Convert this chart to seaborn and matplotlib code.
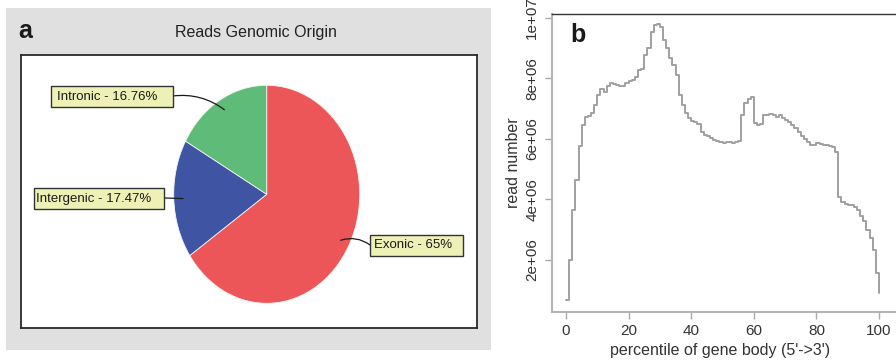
import matplotlib
matplotlib.use("Agg")
import matplotlib.pyplot as plt
from matplotlib.patches import Rectangle
import numpy as np
import pandas as pd
import seaborn as sns

# ---------------- data ----------------
categories = ["Exonic", "Intergenic", "Intronic"]
shares = [65.0, 17.47, 16.76]
share_labels = ["Exonic - 65%", "Intergenic - 17.47%", "Intronic - 16.76%"]
pie_colors = ["#EC5658", "#3F55A4", "#5FBB78"]

percentile = list(range(101))
reads_millions = [
    0.68, 2.00, 3.65, 4.64, 5.76, 6.46, 6.73, 6.75, 6.85, 7.11,
    7.44, 7.64, 7.53, 7.75, 7.83, 7.80, 7.78, 7.75, 7.75, 7.83,
    7.90, 7.95, 8.05, 8.27, 8.30, 8.77, 8.99, 9.53, 9.76, 9.78,
    9.70, 9.26, 8.99, 8.66, 8.44, 8.10, 7.45, 7.11, 6.84, 6.68,
    6.59, 6.54, 6.50, 6.23, 6.13, 6.08, 6.04, 5.96, 5.92, 5.88,
    5.86, 5.88, 5.90, 5.87, 5.88, 5.92, 6.79, 7.17, 7.30, 7.37,
    6.53, 6.46, 6.50, 6.79, 6.80, 6.82, 6.80, 6.73, 6.79, 6.70,
    6.62, 6.55, 6.45, 6.35, 6.22, 6.10, 5.98, 5.88, 5.80, 5.80,
    5.85, 5.84, 5.80, 5.78, 5.76, 5.72, 5.57, 4.09, 3.92, 3.85,
    3.82, 3.80, 3.75, 3.65, 3.45, 3.30, 2.99, 2.72, 2.33, 1.57,
    0.91,
]
x_ticks = [0, 20, 40, 60, 80, 100]
y_ticks = [2e6, 4e6, 6e6, 8e6, 1e7]
y_tick_labels = ["2e+06", "4e+06", "6e+06", "8e+06", "1e+07"]

# ---------------- style ----------------
sns.set_theme(style="white")
plt.rcParams["font.family"] = ["Liberation Sans", "DejaVu Sans"]

W, H = 896, 362
fig = plt.figure(figsize=(W / 100, H / 100), dpi=100)
fig.patch.set_facecolor("white")


def fx(px):
    return px / W


def fy(py):
    return 1 - py / H


# gray panel behind the pie
fig.patches.append(Rectangle((fx(6), fy(350)), fx(491) - fx(6), fy(8) - fy(350),
                             transform=fig.transFigure, facecolor="#DFE0DF",
                             edgecolor="none", zorder=-5))

fig.text(fx(25), fy(31), "a", fontsize=18, fontweight="bold", ha="center",
         va="center", color="#1a1a1a")
fig.text(fx(255.5), fy(33), "Reads Genomic Origin", fontsize=11.5,
         ha="center", va="center", color="#222222")

# ---------------- pie ----------------
L, R, T, B = 20.7, 476.7, 55, 328
axa = fig.add_axes([fx(L), fy(B), fx(R) - fx(L), fy(T) - fy(B)], zorder=2)
axa.set_facecolor("white")
axa.patch.set_visible(True)
wedges, _ = axa.pie(shares, colors=pie_colors, startangle=90, counterclock=False,
                    wedgeprops=dict(edgecolor="#f4f4f4", linewidth=0.6),
                    frame=True)
axa.set_aspect("auto")
cx, cy, rx, ry = 266.7 - L, B - 194.3, 93.0, 109.0
wpx, hpx = R - L, B - T
axa.set_xlim(-cx / rx, (wpx - cx) / rx)
axa.set_ylim(-cy / ry, (hpx - cy) / ry)
axa.set_xticks([])
axa.set_yticks([])
for s in axa.spines.values():
    s.set_visible(True)
    s.set_color("#2a2a2a")
    s.set_linewidth(1.3)

# label boxes (axes-fraction): x0, x1, y0, y1, text x, connector side, rad
boxes = {
    "Exonic": (0.766, 0.970, 0.2637, 0.3407, 0.7754, "left", 0.25),
    "Intergenic": (0.0292, 0.3143, 0.4359, 0.5128, 0.0342, "right", 0.0),
    "Intronic": (0.0658, 0.334, 0.8095, 0.8864, 0.0803, "right", -0.2),
}
for w, cat, lab in zip(wedges, categories, share_labels):
    x0, x1, y0, y1, tx, side, rad = boxes[cat]
    axa.add_patch(Rectangle((x0, y0), x1 - x0, y1 - y0, transform=axa.transAxes,
                            facecolor="#EEF1B6", edgecolor="#333333", lw=1.0,
                            zorder=5))
    axa.text(tx, (y0 + y1) / 2, lab, transform=axa.transAxes, fontsize=9.5,
             ha="left", va="center", color="#1a1a1a", zorder=6)
    ang = np.deg2rad((w.theta1 + w.theta2) / 2)
    px, py = 0.9 * np.cos(ang), 0.9 * np.sin(ang)
    sx = x0 if side == "left" else x1
    axa.annotate("", xy=(px, py), xycoords="data",
                 xytext=(sx, (y0 + y1) / 2 + 0.002), textcoords="axes fraction",
                 arrowprops=dict(arrowstyle="-", color="#1a1a1a", lw=0.9,
                                 shrinkA=0, shrinkB=0,
                                 connectionstyle=f"arc3,rad={rad}"), zorder=4)

# ---------------- gene body coverage ----------------
bl, bb, bt = 551.7, 311.7, 14.0
axb = fig.add_axes([fx(bl), fy(bb), 1.0 - fx(bl), fy(bt) - fy(bb)])
df = pd.DataFrame({"percentile": percentile,
                   "reads": np.array(reads_millions) * 1e6})
sns.lineplot(data=df, x="percentile", y="reads", ax=axb, color="#a0a0a0",
             lw=1.4, drawstyle="steps-post")
xscale = 3.13
axb.set_xlim((bl - 566) / xscale, (W - 566) / xscale)
axb.set_ylim(0.29e6, 10.12e6)
axb.set_xticks(x_ticks)
axb.set_xticklabels([str(t) for t in x_ticks])
axb.set_yticks(y_ticks)
axb.set_yticklabels(y_tick_labels, rotation=90, va="center")
axb.tick_params(direction="out", length=5, width=1, color="#aaaaaa",
                labelsize=11, labelcolor="#333333", pad=4)
axb.tick_params(axis="both", which="both", bottom=True, left=True)
axb.set_xlabel("percentile of gene body (5'->3')", fontsize=11.5, color="#333333")
axb.set_ylabel("read number", fontsize=11.5, color="#333333")
axb.xaxis.set_label_coords((720 - bl) / (W - bl), -(343 - bb) / (bb - bt))
axb.yaxis.set_label_coords(-(bl - 521) / (W - bl), 0.5)
for side in ["left", "bottom"]:
    axb.spines[side].set_color("#b4b4b4")
    axb.spines[side].set_linewidth(1.5)
axb.spines["right"].set_visible(False)
axb.spines["top"].set_color("#333333")
axb.spines["top"].set_linewidth(1.0)
axb.text(0.055, 0.93, "b", transform=axb.transAxes, fontsize=18,
         fontweight="bold", ha="left", va="center", color="#1a1a1a")

fig.savefig("out.png", dpi=100, facecolor="white")
